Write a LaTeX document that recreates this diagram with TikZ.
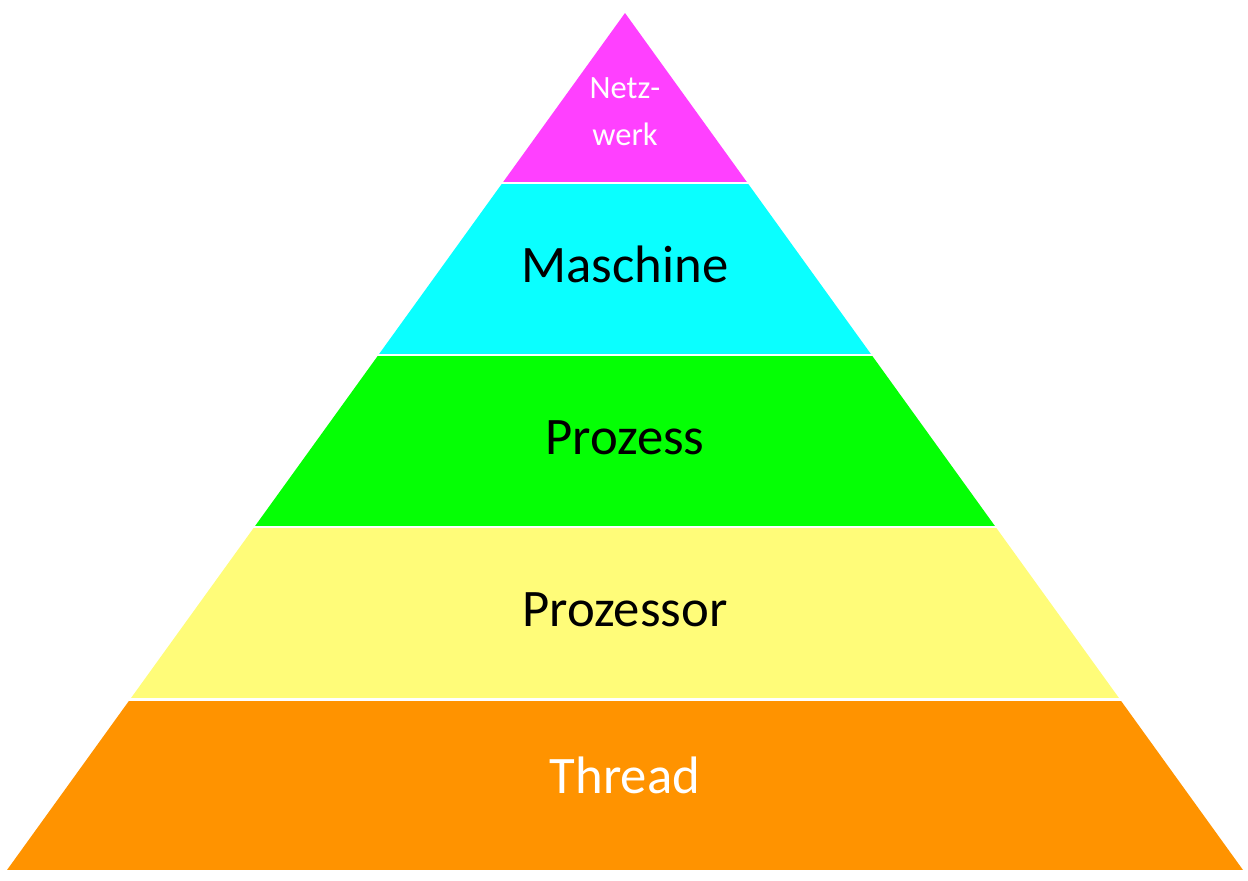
\documentclass[tikz,border=0pt]{standalone}
\usepackage{fontspec}
\setmainfont{Carlito}
\definecolor{netzfarbe}{HTML}{FF40FF}
\definecolor{maschfarbe}{HTML}{0AFFFF}
\definecolor{prozfarbe}{HTML}{05FF05}
\definecolor{cpufarbe}{HTML}{FFFC79}
\definecolor{threadfarbe}{HTML}{FF9300}
\tikzset{
  ebene/.style={font=\fontsize{30}{36}\selectfont, anchor=base, inner sep=0pt},
}
\begin{document}
\begin{tikzpicture}[x=0.02cm, y=-0.02cm]
    \useasboundingbox (0,0) rectangle (1248,880);

    % Pyramide, in Ebenen geschnitten
    \begin{scope}
        \clip (7,870) -- (625,13) -- (1243,870) -- cycle;
        \fill[netzfarbe]   (0,0)     rectangle (1248,182);
        \fill[maschfarbe]  (0,184)   rectangle (1248,353.5);
        \fill[prozfarbe]   (0,356)   rectangle (1248,525.5);
        \fill[cpufarbe]    (0,527.5) rectangle (1248,697.5);
        \fill[threadfarbe] (0,700.5) rectangle (1248,870);
    \end{scope}

    % Beschriftungen
    \node[align=center, inner sep=0pt, text=white,
          font=\fontsize{18.5}{26.7}\selectfont] (netzwerk) at (625,111.5) {Netz-\\werk};
    \node[ebene] (maschine)  at (625,282)   {Maschine};
    \node[ebene] (prozess)   at (625,454)   {Prozess};
    \node[ebene] (prozessor) at (625,626.7) {Prozessor};
    \node[ebene, text=white] (thread) at (625,793.3) {Thread};
\end{tikzpicture}
\end{document}
